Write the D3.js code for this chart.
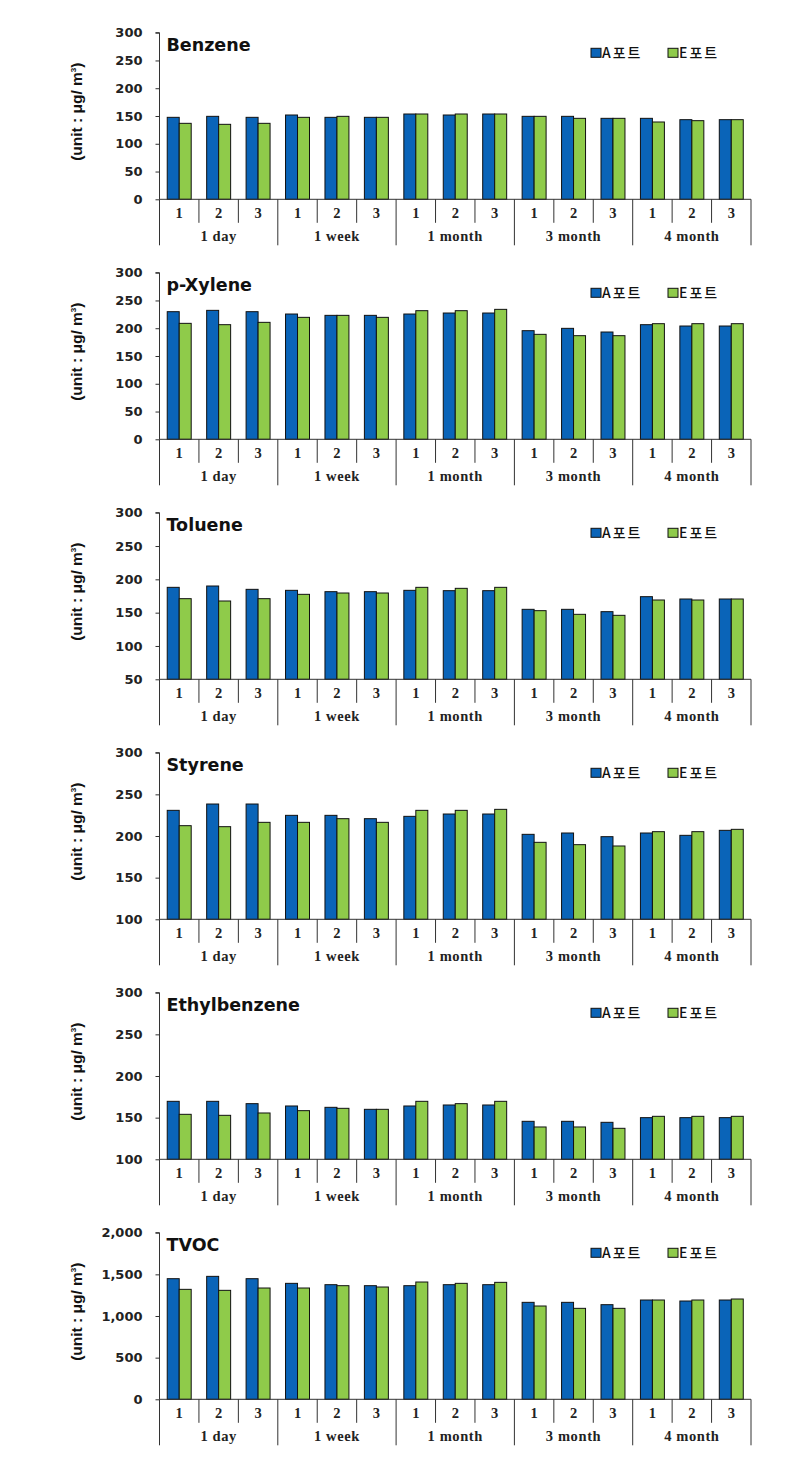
<!DOCTYPE html>
<html><head><meta charset="utf-8">
<script src="https://cdn.jsdelivr.net/npm/d3@7"></script>
<style>body{margin:0;background:#fff;} svg{display:block;}</style>
</head><body>
<svg id="chart" width="807" height="1473"></svg>
<script>
// ---- data ----
const categories = ["1","2","3","1","2","3","1","2","3","1","2","3","1","2","3"];
const groups = ["1 day","1 week","1 month","3 month","4 month"];
const series = ["A포트","E포트"];
const panelTitles = ["Benzene","p-Xylene","Toluene","Styrene","Ethylbenzene","TVOC"];

const benzeneA = [147.6,149.4,147.6,151.8,147.6,147.6,153.6,151.8,153.6,149.4,149.4,145.8,145.8,143.4,143.4];
const benzeneE = [136.8,135,136.8,147.6,149.4,147.6,153.6,153.6,153.6,149.4,145.8,145.8,139.2,141.6,143.4];
const xyleneA = [229.8,232.2,229.8,225.6,223.2,223.2,225.6,227.4,227.4,195.6,199.8,193.2,206.4,204,204];
const xyleneE = [208.8,206.4,210.6,219.6,223.2,219.6,231.6,231.6,234,189,186.6,186.6,208.2,208.2,208.2];
const tolueneA = [188,190,185,183.5,181.5,181.5,183.5,183,183,155,155,151.5,174,170.5,170.5];
const tolueneE = [171,167.5,171,177.5,179.5,179.5,188,186.5,188,153,147.5,146,169,169,170.5];
const styreneA = [230.8,238.4,238.4,224.8,224.8,220.8,223.6,226.4,226.4,202,203.6,199.2,203.6,200.8,206.8];
const styreneE = [212.4,211.2,216.4,216.4,220.8,216.4,230.8,230.8,232,192.4,189.6,188,205.2,205.2,208];
const ethylA = [169.6,169.6,166.8,164,162.4,160,164,165.2,165.2,145.6,145.6,144.4,150,150,150];
const ethylE = [154,152.8,155.6,158.4,161.2,160,169.6,166.8,169.6,138.8,138.8,137.2,151.6,151.6,151.6];
const tvocA = [1448,1476,1448,1392,1376,1364,1364,1376,1376,1164,1164,1136,1192,1180,1192];
const tvocE = [1320,1308,1336,1336,1364,1348,1408,1392,1404,1120,1092,1092,1192,1192,1204];

const ticks0to300 = [0,50,100,150,200,250,300];
const ticks50to300 = [50,100,150,200,250,300];
const ticks100to300 = [100,150,200,250,300];
const ticksTvoc = [0,500,1000,1500,2000];

const panels = [
  {title: panelTitles[0], a: benzeneA, e: benzeneE, ticks: ticks0to300},
  {title: panelTitles[1], a: xyleneA, e: xyleneE, ticks: ticks0to300},
  {title: panelTitles[2], a: tolueneA, e: tolueneE, ticks: ticks50to300},
  {title: panelTitles[3], a: styreneA, e: styreneE, ticks: ticks100to300},
  {title: panelTitles[4], a: ethylA, e: ethylE, ticks: ticks100to300},
  {title: panelTitles[5], a: tvocA, e: tvocE, ticks: ticksTvoc, comma: true}
];

// ---- layout ----
const colors = ["#0a64b8", "#8fcb4a"];
const left = 159.5, right = 751, top0 = 32.7, base0 = 199.3, step = 240;
const svg = d3.select("#chart");

const x = d3.scaleBand().domain(d3.range(categories.length)).range([left, right]).paddingInner(0).paddingOuter(0);
const x1 = d3.scaleBand().domain(series).range([0, x.bandwidth()]).paddingInner(0).paddingOuter(0.645);

panels.forEach((p, i) => {
  const g = svg.append("g").attr("transform", `translate(0,${i * step})`);
  const dom = d3.extent(p.ticks);
  const y = d3.scaleLinear().domain(dom).range([base0, top0]);

  // bars
  const rows = categories.map((c, k) => ({k, vals: [p.a[k], p.e[k]]}));
  const cg = g.selectAll("g.cat").data(rows).join("g").attr("transform", d => `translate(${x(d.k)},0)`);
  cg.selectAll("rect").data(d => d.vals.map((v, s) => ({v, s}))).join("rect")
    .attr("x", d => x1(series[d.s]))
    .attr("width", x1.bandwidth())
    .attr("y", d => y(d.v))
    .attr("height", d => base0 - y(d.v))
    .attr("fill", d => colors[d.s])
    .attr("stroke", "#111")
    .attr("stroke-width", 1);

  // y axis
  const ax = g.append("g").attr("transform", `translate(${left},0)`)
    .call(d3.axisLeft(y).tickValues(p.ticks).tickSize(4).tickPadding(13)
      .tickFormat(p.comma ? d3.format(",") : d3.format("d")));
  ax.select(".domain").attr("stroke", "#333").attr("d", `M-4,${top0}H0V${base0}`);
  ax.selectAll(".tick line").attr("stroke", "#333");
  ax.selectAll(".tick text").attr("fill", "#222").attr("font-family", "DejaVu Sans, sans-serif")
    .attr("font-weight", "bold").attr("font-size", 13);

  // baseline
  g.append("line").attr("x1", left).attr("x2", right).attr("y1", base0).attr("y2", base0).attr("stroke", "#333");

  // category separators
  const seps = d3.range(categories.length + 1);
  g.selectAll("line.sep").data(seps).join("line").attr("class", "sep")
    .attr("x1", k => k < categories.length ? x(k) : right)
    .attr("x2", k => k < categories.length ? x(k) : right)
    .attr("y1", base0)
    .attr("y2", k => k % 3 === 0 ? base0 + 46 : base0 + 23.5)
    .attr("stroke", "#333").attr("stroke-width", 1);

  // category labels
  g.selectAll("text.cat").data(categories).join("text").attr("class", "cat")
    .attr("x", (c, k) => x(k) + x.bandwidth() / 2)
    .attr("y", base0 + 19)
    .attr("text-anchor", "middle")
    .attr("font-family", "Liberation Serif, serif").attr("font-weight", "bold").attr("font-size", 14.5)
    .attr("fill", "#222").text(c => c);

  // group labels
  g.selectAll("text.grp").data(groups).join("text").attr("class", "grp")
    .attr("x", (gr, j) => (x(j * 3) + (j * 3 + 3 < categories.length ? x(j * 3 + 3) : right)) / 2)
    .attr("y", base0 + 42)
    .attr("text-anchor", "middle")
    .attr("font-family", "Liberation Serif, serif").attr("font-weight", "bold").attr("font-size", 14.5)
    .attr("letter-spacing", 0.6)
    .attr("fill", "#222").text(gr => gr);

  // title
  g.append("text").attr("x", 166.5).attr("y", top0 + 18.5)
    .attr("font-family", "DejaVu Sans, sans-serif").attr("font-weight", "bold").attr("font-size", 17.5)
    .attr("fill", "#111").text(p.title);

  // legend
  const lg = g.append("g").attr("transform", `translate(591,${top0 + 15.6})`);
  const lx = [0, 77];
  series.forEach((s, k) => {
    lg.append("rect").attr("x", lx[k]).attr("y", 0).attr("width", 10).attr("height", 9)
      .attr("fill", colors[k]).attr("stroke", "#111").attr("stroke-width", 1);
    lg.append("text").attr("x", lx[k] + 11).attr("y", 9.5)
      .attr("font-family", "Noto Sans CJK KR, sans-serif").attr("font-size", 14)
      .attr("font-weight", 500)
      .attr("letter-spacing", 2).attr("fill", "#111").text(s);
  });

  // y axis title
  const yt = g.append("text").attr("transform", `translate(82,${top0 + 79}) rotate(-90)`)
    .attr("text-anchor", "middle")
    .attr("font-family", "Liberation Sans, sans-serif").attr("font-weight", "bold").attr("font-size", 15.5)
    .attr("fill", "#111");
  yt.append("tspan").text("(unit : μg/ m");
  yt.append("tspan").attr("font-size", 8).attr("dy", -6).text("3");
  yt.append("tspan").attr("dy", 6).text(")");
});
</script>
</body></html>
